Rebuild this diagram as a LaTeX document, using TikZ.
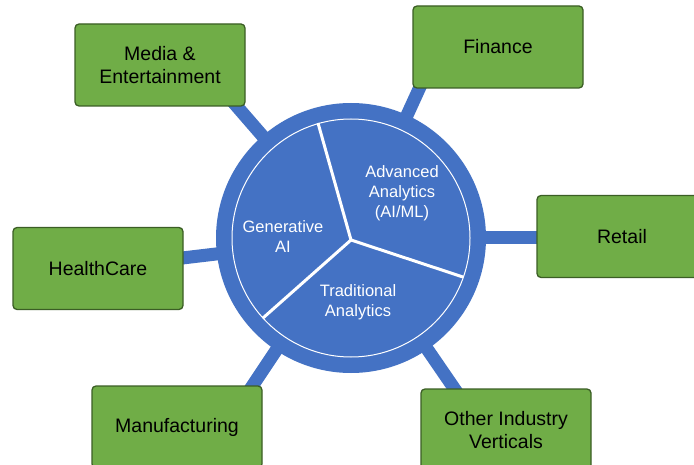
\documentclass[tikz,border=0pt]{standalone}
\usepackage{fontspec}
\setmainfont{Liberation Sans}
\definecolor{hubblue}{HTML}{4472C4}
\definecolor{boxgreen}{HTML}{70AD47}
\definecolor{boxedge}{HTML}{3B5E25}
\begin{document}
\begin{tikzpicture}[x=1pt,y=-1pt,
  industry/.style={draw=boxedge, line width=1.3pt, fill=boxgreen, rounded corners=4pt,
    minimum width=170pt, minimum height=82pt, inner sep=0pt, align=center,
    font=\fontsize{19.5}{23}\selectfont, text=black},
  spoke/.style={draw=hubblue, line width=13pt},
  divider/.style={draw=white, line width=3pt},
  hubtext/.style={text=white, align=center, font=\fontsize{16.5}{20}\selectfont}]
\clip (0,0) rectangle (694,465);
\fill[white] (0,0) rectangle (694,465);
% hub position
\coordinate (hubc) at (351,238);
% spoke targets
\coordinate (tmedia) at (227,95);
\coordinate (tfin) at (430,65);
\coordinate (tret) at (560,238);
\coordinate (thc) at (98,268);
\coordinate (tman) at (243,400);
\coordinate (toth) at (469,410);
% spokes
\draw[spoke] (hubc) -- (tmedia);
\draw[spoke] (hubc) -- (tfin);
\draw[spoke] (hubc) -- (tret);
\draw[spoke] (hubc) -- (thc);
\draw[spoke] (hubc) -- (tman);
\draw[spoke] (hubc) -- (toth);
% industry boxes
\node[industry] (media) at (160,65) {Media \&\\Entertainment};
\node[industry] (fin) at (498,47) {Finance};
\node[industry] (ret) at (622,236.5) {Retail};
\node[industry] (hc) at (98,268.5) {HealthCare};
\node[industry] (man) at (177,427) {Manufacturing};
\node[industry] (oth) at (506,430) {Other Industry\\Verticals};
% hub
\node[circle, fill=hubblue, minimum size=270pt, inner sep=0pt] (hub) at (hubc) {};
\node[circle, draw=white, line width=1pt, minimum size=238pt, inner sep=0pt] (inner) at (hubc) {};
\coordinate (mid) at (351,240);
\coordinate (d1) at (318,123);
\coordinate (d2) at (463,277);
\coordinate (d3) at (263,318);
\draw[divider] (mid) -- (d1);
\draw[divider] (mid) -- (d2);
\draw[divider] (mid) -- (d3);
\node[hubtext] (adv) at (402,193) {Advanced\\Analytics\\(AI/ML)};
\node[hubtext] (gen) at (283,237) {Generative\\AI};
\node[hubtext] (trad) at (358,302) {Traditional\\Analytics};
\end{tikzpicture}
\end{document}
